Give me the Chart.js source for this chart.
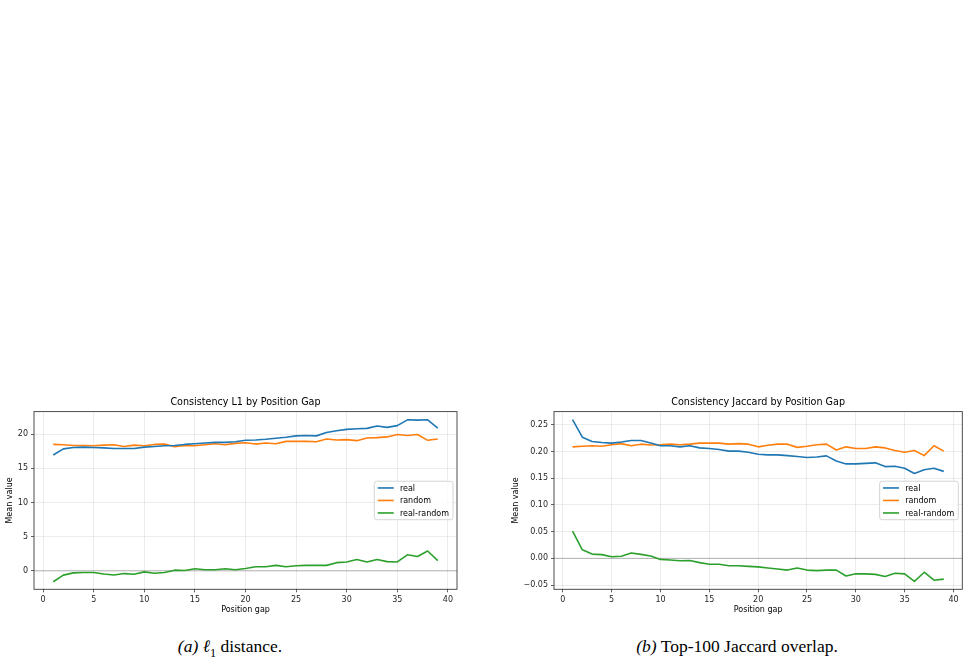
<!DOCTYPE html>
<html lang="en">
<head>
    <meta charset="UTF-8">
    <title>Consistency by Position Gap</title>
    <style>
        body {
            margin: 0;
            background-color: #fff;
            width: 969px;
            height: 672px;
            position: relative;
            overflow: hidden;
        }
        canvas {
            position: absolute;
        }
        #chartL1 { left: 0; top: 390px; }
        #chartJac { left: 485px; top: 390px; }
        .caption {
            position: absolute;
            top: 636px;
            font-family: 'Liberation Serif', 'Times New Roman', serif;
            font-size: 17.5px;
            line-height: 20px;
            color: #000;
            text-align: center;
            white-space: nowrap;
        }
        .caption sub {
            font-size: 70%;
            line-height: 0;
        }
        #capA { left: 130px; width: 200px; }
        #capB { left: 587px; width: 300px; }
    </style>
</head>
<body>

    <canvas id="chartL1" width="480" height="235"></canvas>
    <canvas id="chartJac" width="484" height="235"></canvas>

    <div id="capA" class="caption"><i>(a)</i> <i>ℓ</i><sub>1</sub> distance.</div>
    <div id="capB" class="caption"><i>(b)</i> Top-100 Jaccard overlap.</div>

    <script src="https://cdn.jsdelivr.net/npm/chart.js"></script>

    <script>
        // --- data ---
        const gaps = [1, 2, 3, 4, 5, 6, 7, 8, 9, 10, 11, 12, 13, 14, 15, 16, 17, 18, 19, 20,
                      21, 22, 23, 24, 25, 26, 27, 28, 29, 30, 31, 32, 33, 34, 35, 36, 37, 38, 39];

        const l1Real = [16.95, 17.85, 18.05, 18.1, 18.05, 18.0, 17.9, 17.9, 17.9, 18.1,
                        18.2, 18.3, 18.35, 18.5, 18.6, 18.7, 18.8, 18.8, 18.9, 19.1,
                        19.15, 19.25, 19.4, 19.55, 19.75, 19.8, 19.75, 20.25, 20.5, 20.7,
                        20.8, 20.85, 21.2, 21.0, 21.25, 22.1, 22.05, 22.1, 20.9];
        const l1Random = [18.5, 18.45, 18.35, 18.35, 18.3, 18.4, 18.45, 18.2, 18.4, 18.3,
                          18.5, 18.55, 18.15, 18.35, 18.3, 18.45, 18.6, 18.45, 18.65, 18.75,
                          18.55, 18.7, 18.6, 18.95, 18.95, 18.95, 18.9, 19.3, 19.15, 19.2,
                          19.05, 19.45, 19.5, 19.6, 19.95, 19.8, 19.95, 19.1, 19.3];
        const l1Diff = [-1.6, -0.63, -0.3, -0.25, -0.25, -0.45, -0.6, -0.4, -0.5, -0.15,
                        -0.35, -0.25, 0.1, 0.05, 0.3, 0.15, 0.15, 0.3, 0.15, 0.35,
                        0.6, 0.6, 0.8, 0.6, 0.75, 0.8, 0.8, 0.8, 1.2, 1.3,
                        1.65, 1.3, 1.65, 1.35, 1.3, 2.35, 2.1, 2.9, 1.5];

        const jacReal = [0.26, 0.227, 0.219, 0.217, 0.216, 0.218, 0.221, 0.221, 0.216, 0.211,
                         0.211, 0.209, 0.211, 0.207, 0.206, 0.204, 0.201, 0.201, 0.199, 0.195,
                         0.194, 0.194, 0.1925, 0.191, 0.189, 0.19, 0.192, 0.1825, 0.177, 0.177,
                         0.178, 0.179, 0.172, 0.1725, 0.169, 0.159, 0.166, 0.169, 0.163];
        const jacRandom = [0.209, 0.21, 0.211, 0.21, 0.213, 0.215, 0.211, 0.214, 0.2125, 0.213,
                           0.214, 0.213, 0.214, 0.216, 0.216, 0.216, 0.214, 0.215, 0.214, 0.209,
                           0.212, 0.214, 0.214, 0.208, 0.21, 0.213, 0.214, 0.203, 0.209, 0.206,
                           0.206, 0.209, 0.207, 0.202, 0.199, 0.202, 0.1925, 0.211, 0.201];
        const jacDiff = [0.051, 0.016, 0.008, 0.007, 0.003, 0.004, 0.010, 0.0075, 0.0045, -0.002,
                         -0.003, -0.0045, -0.004, -0.008, -0.011, -0.011, -0.014, -0.014, -0.015, -0.016,
                         -0.018, -0.02, -0.022, -0.018, -0.022, -0.023, -0.022, -0.022, -0.033, -0.029,
                         -0.029, -0.03, -0.034, -0.028, -0.029, -0.043, -0.026, -0.041, -0.039];

        const seriesNames = ['real', 'random', 'real-random'];

        const xTicks = [0, 5, 10, 15, 20, 25, 30, 35, 40];
        const xTickLabels = ['0', '5', '10', '15', '20', '25', '30', '35', '40'];
        const l1YTicks = [0, 5, 10, 15, 20];
        const l1YTickLabels = ['0', '5', '10', '15', '20'];
        const jacYTicks = [-0.05, 0, 0.05, 0.10, 0.15, 0.20, 0.25];
        const jacYTickLabels = ['\u22120.05', '0.00', '0.05', '0.10', '0.15', '0.20', '0.25'];

        // --- styling ---
        const FONT = "'DejaVu Sans', 'Liberation Sans', sans-serif";
        const COLORS = ['#1f77b4', '#ff7f0e', '#2ca02c'];
        const GRID = 'rgba(176,176,176,0.3)';
        const INK = '#262626';

        // frame, y=0 reference line and matplotlib-like legend
        const axesDecor = {
            id: 'axesDecor',
            beforeDatasetsDraw(chart) {
                const { ctx, chartArea: a, scales } = chart;
                const y0 = scales.y.getPixelForValue(0);
                ctx.save();
                ctx.strokeStyle = 'rgba(128,128,128,0.55)';
                ctx.lineWidth = 1;
                ctx.beginPath();
                ctx.moveTo(a.left, y0);
                ctx.lineTo(a.right, y0);
                ctx.stroke();
                ctx.restore();
            },
            afterDatasetsDraw(chart) {
                const { ctx, chartArea: a } = chart;
                ctx.save();
                ctx.strokeStyle = '#3a3a3a';
                ctx.lineWidth = 0.9;
                ctx.strokeRect(a.left, a.top, a.right - a.left, a.bottom - a.top);

                // legend
                ctx.font = '8px ' + FONT;
                const sets = chart.data.datasets;
                let tw = 0;
                sets.forEach(d => { tw = Math.max(tw, ctx.measureText(d.label).width); });
                const w = 3.2 + 16 + 6.4 + tw + 4;
                const h = 38.5;
                const right = a.right - 4;
                const left = right - w;
                const midY = (a.top + a.bottom) / 2;
                const top = midY - h / 2;
                ctx.beginPath();
                ctx.roundRect(left, top, w, h, 2.5);
                ctx.fillStyle = 'rgba(255,255,255,0.8)';
                ctx.fill();
                ctx.strokeStyle = '#d5d5d5';
                ctx.lineWidth = 1;
                ctx.stroke();
                ctx.textBaseline = 'middle';
                ctx.textAlign = 'left';
                sets.forEach((d, i) => {
                    const ry = midY + (i - 1) * 12.5;
                    ctx.strokeStyle = d.borderColor;
                    ctx.lineWidth = 1.6;
                    ctx.beginPath();
                    ctx.moveTo(left + 3.4, ry);
                    ctx.lineTo(left + 3.4 + 16, ry);
                    ctx.stroke();
                    ctx.fillStyle = '#000';
                    ctx.fillText(d.label, left + 3.2 + 16 + 6.4, ry + 0.5);
                });
                ctx.restore();
            }
        };

        function makeChart(id, opts) {
            const datasets = opts.series.map((vals, i) => ({
                label: seriesNames[i],
                data: gaps.map((g, k) => ({ x: g, y: vals[k] })),
                borderColor: COLORS[i],
                backgroundColor: COLORS[i],
                borderWidth: 1.6,
                pointRadius: 0,
                tension: 0,
                borderJoinStyle: 'round'
            }));

            return new Chart(document.getElementById(id), {
                type: 'line',
                data: { datasets: datasets },
                options: {
                    responsive: false,
                    animation: false,
                    devicePixelRatio: 1,
                    layout: { padding: { left: 0, right: opts.padRight, top: 0, bottom: 0 } },
                    plugins: {
                        legend: { display: false },
                        tooltip: { enabled: false },
                        title: {
                            display: true,
                            text: opts.title,
                            fullSize: false,
                            color: '#000',
                            font: { family: FONT, size: 9.6, weight: 'normal', lineHeight: 1.2 },
                            padding: { top: 7.2, bottom: 2.9 }
                        }
                    },
                    scales: {
                        x: {
                            type: 'linear',
                            min: -0.9,
                            max: 40.9,
                            afterBuildTicks: s => { s.ticks = xTicks.map(v => ({ value: v })); },
                            afterFit: s => { s.height = 35.7; },
                            border: { display: false },
                            grid: { color: GRID, lineWidth: 0.8, tickColor: '#3a3a3a', tickLength: 3, tickWidth: 0.8 },
                            ticks: {
                                callback: (v, i) => xTickLabels[i],
                                color: INK,
                                font: { family: FONT, size: 8 },
                                padding: 2.5,
                                maxRotation: 0,
                                autoSkip: false
                            },
                            title: {
                                display: true,
                                text: 'Position gap',
                                color: '#000',
                                font: { family: FONT, size: 8, lineHeight: 1.2 },
                                padding: { top: 0, bottom: 10.7 }
                            }
                        },
                        y: {
                            type: 'linear',
                            min: opts.yMin,
                            max: opts.yMax,
                            afterBuildTicks: s => { s.ticks = opts.yTicks.map(v => ({ value: v })); },
                            afterFit: s => { s.width = opts.yWidth; },
                            border: { display: false },
                            grid: { color: GRID, lineWidth: 0.8, tickColor: '#3a3a3a', tickLength: 3, tickWidth: 0.8 },
                            ticks: {
                                callback: (v, i) => opts.yTickLabels[i],
                                color: INK,
                                font: { family: FONT, size: 8 },
                                padding: 3,
                                autoSkip: false
                            },
                            title: {
                                display: true,
                                text: 'Mean value',
                                color: '#000',
                                font: { family: FONT, size: 8, lineHeight: 1.2 },
                                padding: { top: opts.yTitlePad, bottom: 0 }
                            }
                        }
                    }
                },
                plugins: [axesDecor]
            });
        }

        makeChart('chartL1', {
            title: 'Consistency L1 by Position Gap',
            series: [l1Real, l1Random, l1Diff],
            yMin: -2.7, yMax: 23.3,
            yTicks: l1YTicks, yTickLabels: l1YTickLabels,
            yWidth: 34, yTitlePad: 5.2, padRight: 23
        });

        makeChart('chartJac', {
            title: 'Consistency Jaccard by Position Gap',
            series: [jacReal, jacRandom, jacDiff],
            yMin: -0.058, yMax: 0.275,
            yTicks: jacYTicks, yTickLabels: jacYTickLabels,
            yWidth: 69, yTitlePad: 25.9, padRight: 6.7
        });
    </script>
</body>
</html>
